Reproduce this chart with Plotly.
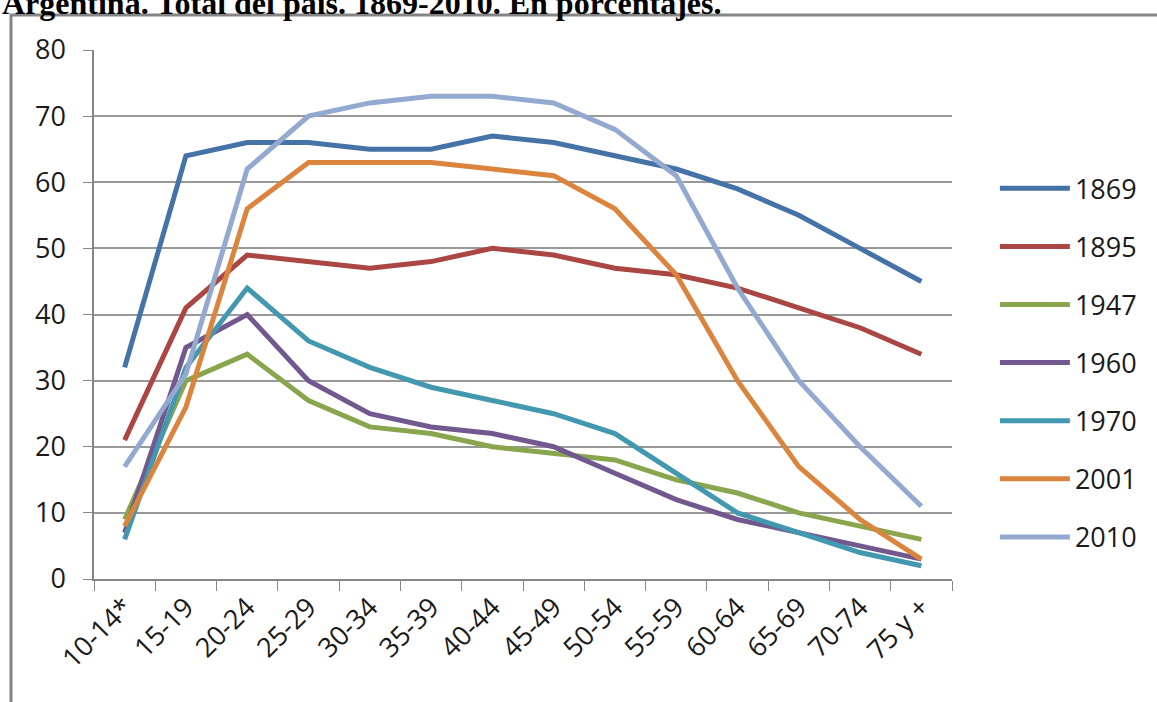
import plotly.graph_objects as go

# Age groups (x categories)
age_groups = ["10-14*", "15-19", "20-24", "25-29", "30-34", "35-39", "40-44",
              "45-49", "50-54", "55-59", "60-64", "65-69", "70-74", "75 y +"]

# Percentages by census year
y1869 = [32, 64, 66, 66, 65, 65, 67, 66, 64, 62, 59, 55, 50, 45]
y1895 = [21, 41, 49, 48, 47, 48, 50, 49, 47, 46, 44, 41, 38, 34]
y1947 = [9, 30, 34, 27, 23, 22, 20, 19, 18, 15, 13, 10, 8, 6]
y1960 = [7, 35, 40, 30, 25, 23, 22, 20, 16, 12, 9, 7, 5, 3]
y1970 = [6, 32, 44, 36, 32, 29, 27, 25, 22, 16, 10, 7, 4, 2]
y2001 = [8, 26, 56, 63, 63, 63, 62, 61, 56, 46, 30, 17, 9, 3]
y2010 = [17, 31, 62, 70, 72, 73, 73, 72, 68, 61, 44, 30, 20, 11]

series_names = ["1869", "1895", "1947", "1960", "1970", "2001", "2010"]
series_values = [y1869, y1895, y1947, y1960, y1970, y2001, y2010]
colors = ["#4572A7", "#AA4643", "#89A54E", "#71588F", "#4198AF", "#DB843D", "#93A9CF"]

y_ticks = [0, 10, 20, 30, 40, 50, 60, 70, 80]

FONT = "Open Sans"
TEXT = "#1a1a1a"
W, H = 1157, 702
L, R, T, B = 94, 205, 50, 123
plot_w = W - L - R
plot_h = H - T - B

fig = go.Figure()
for i, (name, vals, col) in enumerate(zip(series_names, series_values, colors)):
    fig.add_trace(go.Scatter(
        x=age_groups, y=vals, name=name, mode="lines",
        line=dict(color=col, width=5),
        legendgroup=f"g{i}",
    ))

# outer frame around the chart area
fig.add_shape(type="rect", xref="paper", yref="paper",
              x0=(11 - L) / plot_w, x1=(W + 20 - L) / plot_w,
              y0=-(B + 20) / plot_h, y1=1 + (T - 15) / plot_h,
              line=dict(color="#858585", width=3), fillcolor="rgba(0,0,0,0)",
              layer="below")

fig.add_annotation(
    text="<b>Argentina. Total del país. 1869-2010. En porcentajes.</b>",
    xref="paper", yref="paper", x=(0 - L) / plot_w, y=1 + (T + 17) / plot_h,
    xanchor="left", yanchor="top", showarrow=False,
    font=dict(family="Liberation Serif", size=32, color="#000000"),
)

fig.update_layout(
    width=W, height=H,
    margin=dict(l=L, r=R, t=T, b=B),
    paper_bgcolor="white", plot_bgcolor="white",
    font=dict(family=FONT, size=27, color=TEXT),
    showlegend=True,
    legend=dict(x=1.05, y=0.784, xanchor="left", yanchor="top",
                tracegroupgap=20, itemwidth=70,
                font=dict(family=FONT, size=27, color=TEXT),
                bgcolor="rgba(0,0,0,0)"),
    xaxis=dict(
        type="category", tickangle=-45, showgrid=False,
        showline=True, linecolor="#868686", linewidth=1.5,
        ticks="outside", ticklen=10, tickcolor="#868686",
        tickson="boundaries", range=[-0.5, len(age_groups) - 0.5],
        tickfont=dict(family=FONT, size=27, color=TEXT),
    ),
    yaxis=dict(
        range=[0, 80], tickvals=y_ticks, showgrid=True,
        gridcolor="#999999", gridwidth=1.5,
        showline=True, linecolor="#868686", linewidth=1.5,
        ticks="outside", ticklen=9, tickcolor="#868686",
        ticklabelstandoff=12,
        tickfont=dict(family=FONT, size=27, color=TEXT),
        zeroline=False,
    ),
)

fig.write_html("out.html")
